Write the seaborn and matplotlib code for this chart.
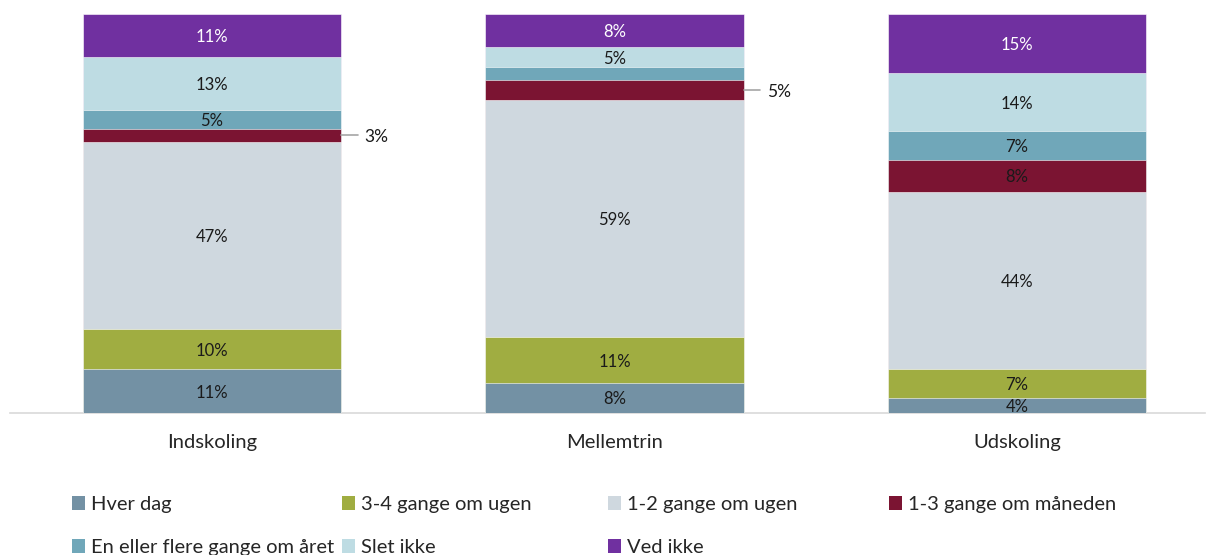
import numpy as np
import pandas as pd
import matplotlib
matplotlib.use("Agg")
import matplotlib.pyplot as plt
import seaborn as sns
from matplotlib.patches import Patch

groups = ["Indskoling", "Mellemtrin", "Udskoling"]
answers = ["Hver dag", "3-4 gange om ugen", "1-2 gange om ugen", "1-3 gange om måneden",
           "En eller flere gange om året", "Slet ikke", "Ved ikke"]
hver_dag = [11.0, 7.6, 3.8]
tre_fire_ugen = [10.0, 11.4, 7.3]
en_to_ugen = [46.9, 59.4, 44.4]
en_tre_maaned = [3.3, 5.0, 8.0]
en_flere_aaret = [4.8, 3.3, 7.3]
slet_ikke = [13.3, 5.0, 14.3]
ved_ikke = [10.7, 8.3, 14.9]
colors = ["#7391A4", "#A0AD41", "#CFD8DF", "#7B1432", "#70A7B9", "#BEDCE3", "#7030A0"]

series = [hver_dag, tre_fire_ugen, en_to_ugen, en_tre_maaned, en_flere_aaret, slet_ikke, ved_ikke]
df = pd.DataFrame(np.array(series).T, index=groups, columns=answers)
cum = df.cumsum(axis=1)

# segments whose label sits outside the bar (or is not shown)
outside = [(0, "1-3 gange om måneden"), (1, "1-3 gange om måneden")]
hidden = [(1, "En eller flere gange om året")]

sns.set_style("white")
plt.rcParams["font.family"] = ["Lato", "DejaVu Sans"]

fig = plt.figure(figsize=(12.08, 5.55), dpi=100)
ax = fig.add_axes([10 / 1208, (555 - 413) / 555, 1195 / 1208, 399 / 555])

# draw from the top of the stack downward so lower segments overlay
for i in reversed(range(len(answers))):
    d = pd.DataFrame({"group": groups, "val": cum[answers[i]].values})
    sns.barplot(data=d, x="group", y="val", color=colors[i], width=0.643,
                saturation=1, ax=ax, edgecolor="white", linewidth=0.4)

ax.set_ylim(0, 100)
ax.set_xlim(-0.502, 2.467)
ax.set_xlabel("")
ax.set_ylabel("")
ax.set_yticks([])
ax.tick_params(axis="x", length=0, labelsize=14.5, pad=15)
for s in ["top", "left", "right"]:
    ax.spines[s].set_visible(False)
ax.spines["bottom"].set_color("#D9D9D9")
ax.spines["bottom"].set_linewidth(1.2)
ax.spines["bottom"].set_zorder(0)

# labels inside segments
for gi, g in enumerate(groups):
    for a in answers:
        if (gi, a) in outside or (gi, a) in hidden:
            continue
        v = df.loc[g, a]
        mid = cum.loc[g, a] - v / 2
        c = "white" if a == "Ved ikke" else "#1a1a1a"
        ax.text(gi, mid - 0.4, f"{round(v):.0f}%", ha="center", va="center",
                fontsize=12, color=c)

# small segments labelled outside with leader line
half = 0.643 / 2
for gi, a in outside:
    g = groups[gi]
    v = df.loc[g, a]
    mid = cum.loc[g, a] - v / 2
    ax.plot([gi + half, gi + half + 0.04], [mid, mid], color="#A6A6A6", lw=1.2,
            clip_on=False)
    ax.text(gi + half + 0.057, mid - 0.4, f"{round(v):.0f}%", ha="left", va="center",
            fontsize=12.5, color="#1a1a1a")

# legend, row-major in 4 columns
col_x = [72, 342, 608, 889]
rows = [[0, 4], [1, 5], [2, 6], [3]]
for cx, idx in zip(col_x, rows):
    handles = [Patch(facecolor=colors[k], edgecolor="none") for k in idx]
    fig.legend(handles, [answers[k] for k in idx], loc="upper left",
               bbox_to_anchor=(cx / 1208, 1 - 496 / 555), frameon=False,
               fontsize=14.5, handlelength=0.65, handleheight=0.65,
               handletextpad=0.3, labelspacing=1.3, borderaxespad=0,
               borderpad=0)

fig.savefig("out.png", dpi=100)
